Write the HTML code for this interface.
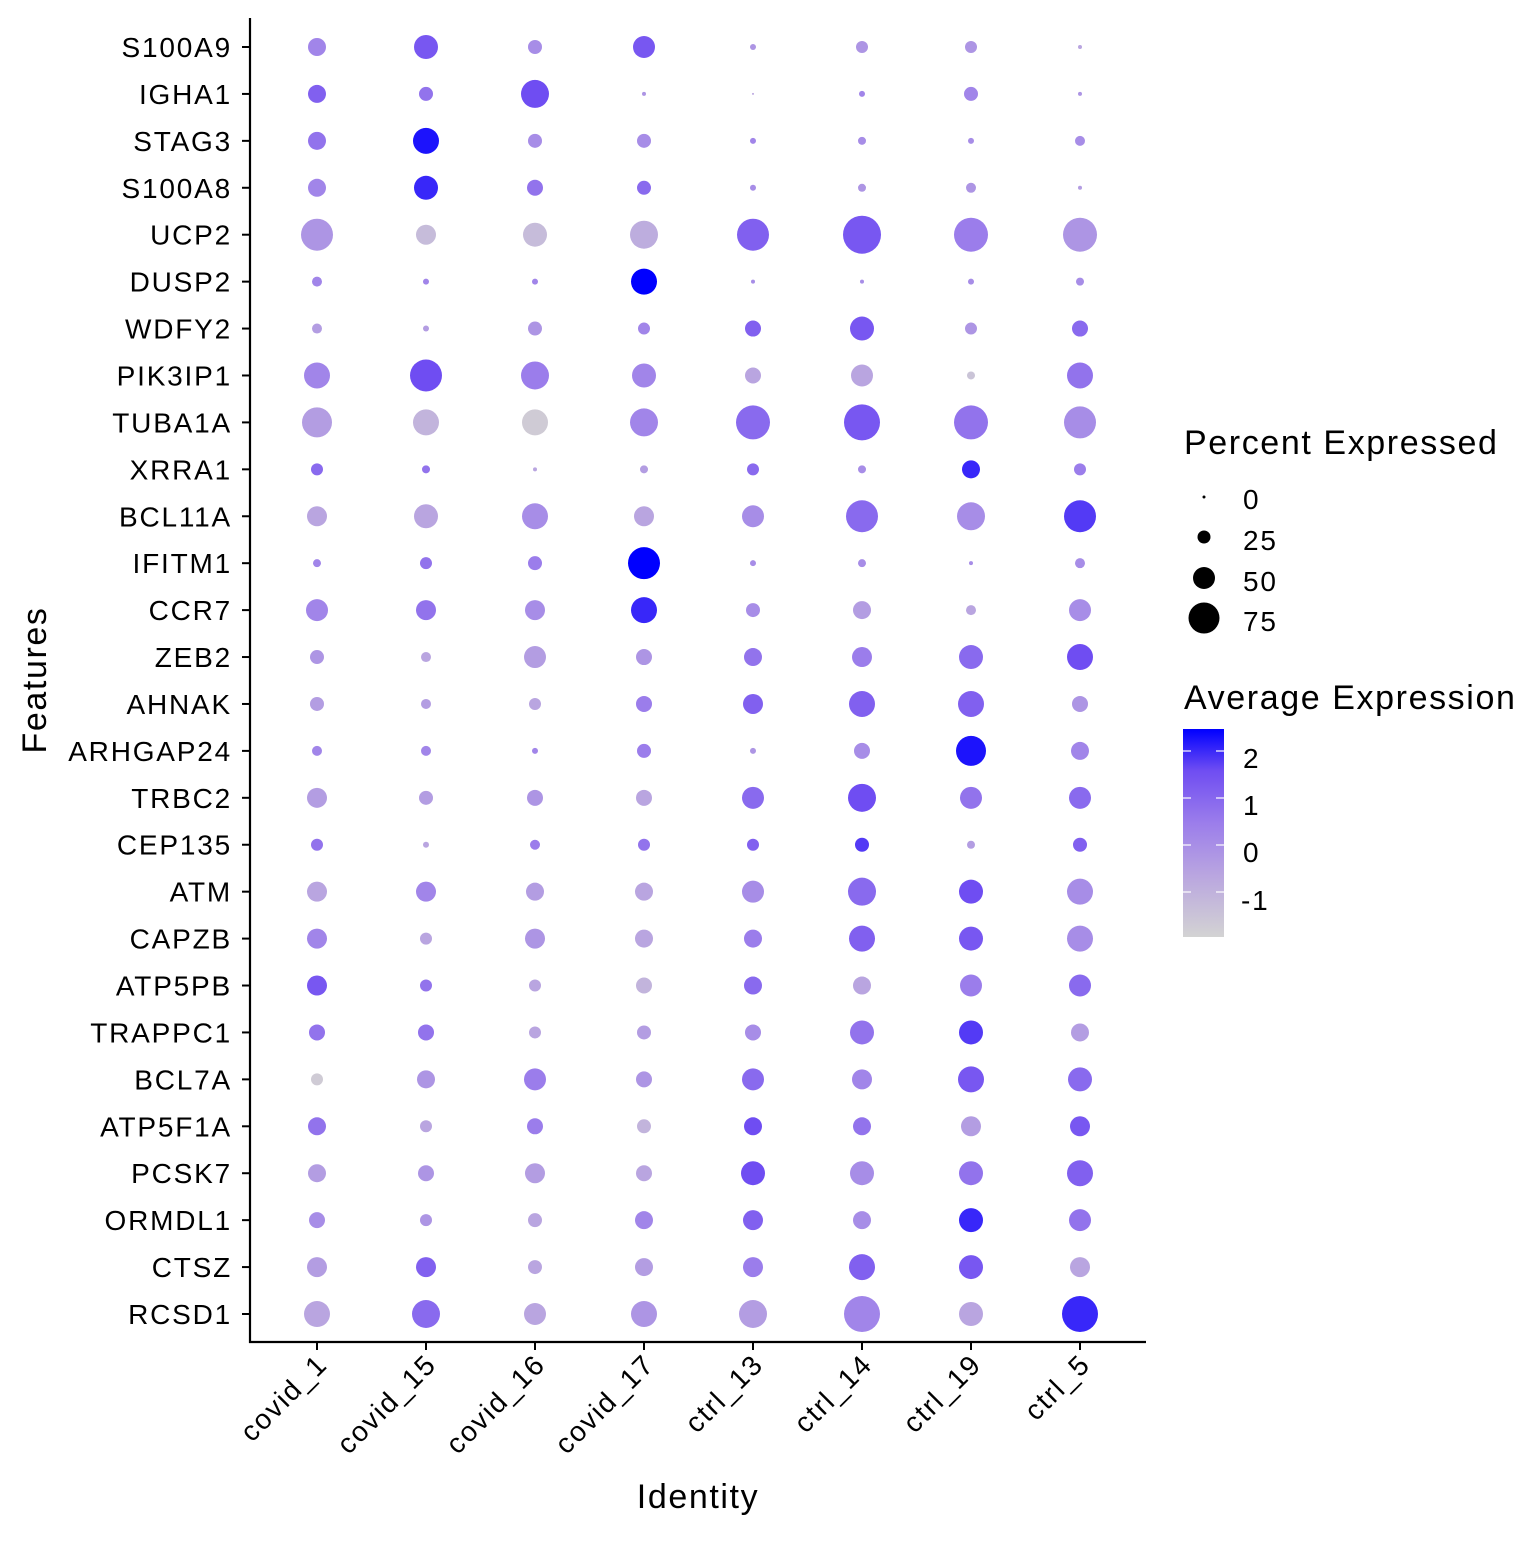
<!DOCTYPE html>
<html><head><meta charset="utf-8"><style>
html,body{margin:0;padding:0;background:#fff;}
svg text{font-family:"Liberation Sans",Arial,sans-serif;fill:#000;}
.t{letter-spacing:1.6px;}
.l{letter-spacing:1.8px;}
</style></head><body>
<svg id="s" width="1536" height="1536" xmlns="http://www.w3.org/2000/svg">
<defs><linearGradient id="g" x1="0" y1="1" x2="0" y2="0">
<stop offset="0" stop-color="#d3d3d3"/><stop offset="0.3" stop-color="#b9a5e0"/><stop offset="0.55" stop-color="#9b7deb"/><stop offset="0.8" stop-color="#6f4df2"/><stop offset="1" stop-color="#0000ff"/></linearGradient></defs>
<line x1="250" y1="18" x2="250" y2="1343" stroke="#000" stroke-width="2.2"/>
<line x1="249" y1="1342" x2="1146" y2="1342" stroke="#000" stroke-width="2.2"/>
<g id="dots"></g>
<text class="t" x="698" y="1508" font-size="34" text-anchor="middle">Identity</text>
<text class="t" x="0" y="0" font-size="34" text-anchor="middle" transform="translate(46,680) rotate(-90)">Features</text>
<text class="t" x="1184" y="454" font-size="34">Percent Expressed</text>
<circle cx="1204" cy="497" r="1.5" fill="#000"/><circle cx="1204" cy="537" r="6.5" fill="#000"/>
<circle cx="1204" cy="578" r="11" fill="#000"/><circle cx="1204" cy="618" r="15.5" fill="#000"/>
<text class="l" x="1243" y="509" font-size="28">0</text><text class="l" x="1243" y="550" font-size="28">25</text>
<text class="l" x="1243" y="591" font-size="28">50</text><text class="l" x="1243" y="631" font-size="28">75</text>
<text class="t" x="1184" y="709" font-size="34">Average Expression</text>
<rect x="1183" y="729" width="41" height="208" fill="url(#g)"/>
<g stroke="#fff" stroke-width="1.5" opacity="0.8">
<line x1="1183" y1="751" x2="1191" y2="751"/><line x1="1216" y1="751" x2="1224" y2="751"/>
<line x1="1183" y1="798" x2="1191" y2="798"/><line x1="1216" y1="798" x2="1224" y2="798"/>
<line x1="1183" y1="845" x2="1191" y2="845"/><line x1="1216" y1="845" x2="1224" y2="845"/>
<line x1="1183" y1="892" x2="1191" y2="892"/><line x1="1216" y1="892" x2="1224" y2="892"/></g>
<text class="l" x="1243" y="768" font-size="28">2</text><text class="l" x="1243" y="815" font-size="28">1</text>
<text class="l" x="1243" y="862" font-size="28">0</text><text class="l" x="1241" y="910" font-size="28">-1</text>
</svg>
<script>
var rows=["S100A9","IGHA1","STAG3","S100A8","UCP2","DUSP2","WDFY2","PIK3IP1","TUBA1A","XRRA1","BCL11A","IFITM1","CCR7","ZEB2","AHNAK","ARHGAP24","TRBC2","CEP135","ATM","CAPZB","ATP5PB","TRAPPC1","BCL7A","ATP5F1A","PCSK7","ORMDL1","CTSZ","RCSD1"];
var cols=["covid_1","covid_15","covid_16","covid_17","ctrl_13","ctrl_14","ctrl_19","ctrl_5"];
var D=[
[9,.5,12,.75,7,.45,11,.75,3,.4,6,.4,6,.4,2,.3],
[9,.7,7,.6,14,.8,2,.4,1,.3,3,.5,7,.5,2,.4],
[9,.6,13,.95,7,.45,7,.45,3,.5,4,.45,3,.45,5,.45],
[9,.5,12,.9,8,.6,7,.65,3,.45,4,.4,5,.4,2,.35],
[16,.4,10,.15,12,.15,14,.25,16,.7,19,.75,17,.55,17,.4],
[5,.5,3,.5,3,.5,13,1,2,.45,2,.45,3,.45,4,.45],
[5,.35,3,.35,7,.4,6,.5,8,.7,12,.75,6,.4,8,.65],
[13,.5,16,.8,14,.55,12,.5,8,.3,11,.3,4,.1,13,.6],
[15,.35,13,.2,13,.05,14,.5,17,.65,18,.75,17,.6,16,.45],
[6,.65,4,.6,2,.3,4,.35,6,.65,4,.45,9,.9,6,.55],
[10,.3,12,.3,13,.45,10,.3,11,.45,16,.65,14,.45,16,.85],
[4,.5,6,.6,7,.55,16,1,3,.45,4,.45,2,.45,5,.45],
[11,.5,10,.6,10,.45,13,.9,7,.45,9,.35,5,.3,11,.45],
[7,.4,5,.3,11,.35,8,.4,9,.6,10,.55,12,.65,13,.8],
[7,.35,5,.35,6,.3,8,.55,10,.7,13,.7,13,.7,8,.4],
[5,.5,5,.5,3,.5,7,.55,3,.4,8,.45,15,.95,9,.5],
[10,.35,7,.35,8,.4,8,.3,11,.65,14,.8,11,.6,11,.65],
[6,.6,3,.3,5,.55,6,.6,6,.7,7,.85,4,.35,7,.7],
[10,.3,10,.5,9,.35,9,.3,11,.45,14,.65,12,.8,13,.45],
[10,.5,6,.3,10,.4,9,.3,9,.55,13,.7,12,.75,13,.45],
[10,.75,6,.6,6,.3,8,.2,9,.65,9,.3,11,.55,11,.65],
[8,.6,8,.6,6,.3,7,.35,8,.45,12,.6,12,.85,9,.35],
[6,.05,9,.4,11,.55,8,.4,11,.65,10,.5,13,.75,12,.65],
[9,.6,6,.3,8,.55,7,.2,9,.8,9,.6,10,.35,10,.75],
[9,.35,8,.4,10,.35,8,.3,12,.8,12,.45,12,.6,13,.7],
[8,.45,6,.4,7,.3,9,.5,10,.7,9,.45,12,.9,11,.6],
[10,.35,10,.7,7,.3,9,.35,10,.55,13,.7,12,.75,10,.3],
[13,.3,14,.65,11,.3,13,.4,14,.35,18,.5,12,.3,18,.9]];
var S=[[0,211,211,211],[.3,185,165,224],[.55,155,125,235],[.8,111,77,242],[1,0,0,255]];
function col(t){for(var i=1;i<S.length;i++){if(t<=S[i][0]){var a=S[i-1],b=S[i],f=(t-a[0])/(b[0]-a[0]);return "rgb("+[1,2,3].map(function(k){return Math.round(a[k]+(b[k]-a[k])*f)}).join(",")+")";}}return "rgb(0,0,255)";}
var h="";
for(var r=0;r<28;r++){var y=47+r*(1267/27);
h+='<text class="l" x="232" y="'+(y+10)+'" font-size="28" text-anchor="end">'+rows[r]+'</text><line x1="242" y1="'+y+'" x2="250" y2="'+y+'" stroke="#000" stroke-width="2"/>';
for(var c=0;c<8;c++){var x=317+c*109;h+='<circle cx="'+x+'" cy="'+y+'" r="'+D[r][2*c]+'" fill="'+col(D[r][2*c+1])+'"/>';}}
for(var c=0;c<8;c++){var x=317+c*109;
h+='<line x1="'+x+'" y1="1342" x2="'+x+'" y2="1350" stroke="#000" stroke-width="2"/>';
h+='<text class="l" font-size="28" text-anchor="end" transform="translate('+(x+12)+',1366) rotate(-45)">'+cols[c]+'</text>';}
document.getElementById("dots").innerHTML=h;
</script>
</body></html>
